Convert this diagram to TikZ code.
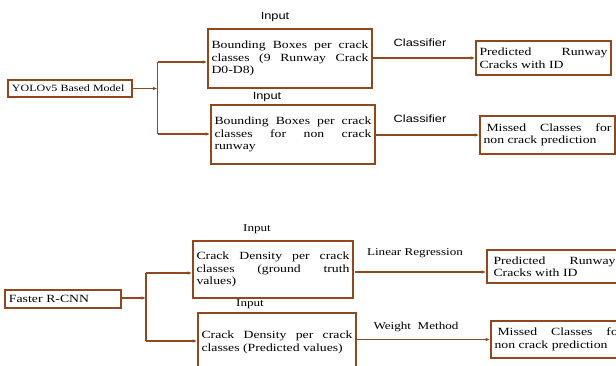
\documentclass[tikz,border=0pt]{standalone}
\usepackage{fontspec}
\setmainfont{Liberation Serif}[FakeStretch=1.25]
\setsansfont{Liberation Sans}[FakeStretch=1.22]
\usetikzlibrary{arrows.meta}
\definecolor{brn}{RGB}{145,72,30}
\tikzset{
  box/.style={draw=brn, line width=1.6pt, rectangle, inner xsep=3.5pt, inner ysep=0pt,
    align=justify, font=\fontsize{11}{12.5}\selectfont, anchor=center},
  conn/.style={draw=brn, line width=1.2pt},
  arr/.style={conn, -{Latex[length=4.5pt,width=3.5pt]}},
  lbls/.style={font=\sffamily\fontsize{10.5}{12}\selectfont, inner sep=0pt},
  lblr/.style={font=\fontsize{10.5}{12}\selectfont, inner sep=0pt},
}
\begin{document}
\begin{tikzpicture}[x=1pt,y=-1pt]
\hyphenpenalty=10000 \tolerance=10000 \emergencystretch=20pt
\useasboundingbox (0,0) rectangle (616,365);
\begin{scope}
\clip (0,0) rectangle (616,365);
% top section
\node[box, minimum width=124pt, minimum height=17pt, text width=116pt, align=left,
  font=\fontsize{9.6}{11}\selectfont] (yolo) at (70,88.5) {YOLOv5 Based Model};
\node[box, minimum width=164pt, minimum height=59pt, text width=157pt] (b1) at (290,58.5)
  {Bounding Boxes per crack\linebreak classes (9 Runway Crack\linebreak D0-D8)};
\node[box, minimum width=164pt, minimum height=59pt, text width=157pt] (b2) at (293,134.5)
  {Bounding Boxes per crack\linebreak classes for non crack\linebreak runway};
\node[box, minimum width=135pt, minimum height=34pt, text width=128pt] (p1) at (543.5,58)
  {Predicted Runway\linebreak Cracks with ID};
\node[box, minimum width=135pt, minimum height=38pt, text width=128pt] (m1) at (547.5,135)
  {\hspace*{3pt}Missed Classes for\linebreak non crack prediction};
\node[lbls] (in1) at (275,17) {Input};
\node[lbls] (in2) at (267,97) {Input};
\node[lbls] (cl1) at (420,43) {Classifier};
\node[lbls] (cl2) at (420,119) {Classifier};
\coordinate (j1) at (157.5,88.5);
\coordinate (j1t) at (157.5,62);
\coordinate (j1b) at (157.5,134);
\draw[arr] (yolo.east) -- (j1);
\draw[conn] (j1t) -- (j1b);
\draw[arr] (j1t) -- (j1t -| b1.west);
\draw[arr] (j1b) -- (j1b -| b2.west);
\draw[arr] (b1.east |- p1.west) -- (p1.west);
\draw[arr] (b2.east |- m1.west) -- (m1.west);
% bottom section
\node[box, minimum width=116pt, minimum height=18pt, text width=108pt, align=left] (fr) at (63,299) {Faster R-CNN};
\node[box, minimum width=160pt, minimum height=57pt, text width=153pt] (b3) at (273,269.5)
  {Crack Density per crack\linebreak classes (ground truth\linebreak values)};
\node[box, minimum width=158pt, minimum height=59pt, text width=151pt] (b4) at (277,342.5)
  {Crack Density per crack\linebreak classes (Predicted values)};
\node[box, minimum width=135pt, minimum height=33pt, text width=128pt, text width=122pt, align=justify] (p2) at (554.5,266.5)
  {Predicted Runway\linebreak Cracks with ID\hspace*{6pt}};
\node[box, minimum width=135pt, minimum height=37pt, text width=128pt] (m2) at (558.5,339.5)
  {\hspace*{3pt}Missed Classes for\linebreak non crack prediction};
\node[lblr] (in3) at (257,229) {Input};
\node[lblr] (in4) at (250,304) {Input};
\node[lblr] (lr) at (415,253) {Linear Regression};
\node[lblr] (wm) at (416,327) {Weight\ \ Method};
\coordinate (j2) at (146,298);
\coordinate (j2t) at (146,273);
\coordinate (j2b) at (146,341);
\draw[arr] (fr.east |- j2) -- (j2);
\draw[conn] (j2t) -- (j2b);
\draw[arr] (j2t) -- (j2t -| b3.west);
\draw[arr] (j2b) -- (j2b -| b4.west);
\coordinate (a3) at (355,272);
\draw[arr] (a3) -- (a3 -| p2.west);
\draw[arr] (b4.east |- m2.west) -- (m2.west);
\end{scope}
\end{tikzpicture}
\end{document}
